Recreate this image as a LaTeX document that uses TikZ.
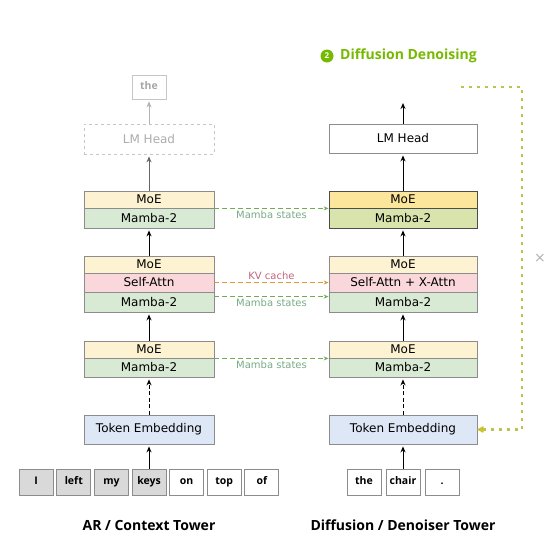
\documentclass[tikz,border=0pt]{standalone}
\usepackage{fontspec}
\setmainfont{DejaVu Sans}
\newfontfamily\headfont{Open Sans}
\usetikzlibrary{positioning}
\usetikzlibrary{calc}
\usetikzlibrary{arrows.meta}
\definecolor{moefill}{RGB}{253,243,210}
\definecolor{mambafill}{RGB}{217,234,212}
\definecolor{attnfill}{RGB}{249,215,218}
\definecolor{embfill}{RGB}{222,231,246}
\definecolor{moehot}{RGB}{252,230,155}
\definecolor{mambahot}{RGB}{216,228,172}
\definecolor{tokgray}{RGB}{217,217,217}
\definecolor{boxline}{RGB}{140,140,140}
\definecolor{nvgreen}{RGB}{118,185,0}
\definecolor{stategreen}{RGB}{112,172,82}
\definecolor{statetext}{RGB}{120,170,135}
\definecolor{kvorange}{RGB}{226,150,60}
\definecolor{kvtext}{RGB}{190,100,130}
\definecolor{loopgreen}{RGB}{186,196,78}
\definecolor{loophead}{RGB}{205,195,45}
\tikzset{
	layer/.style={draw=boxline,line width=0.8pt,inner sep=0pt,font=\fontsize{12}{14}\selectfont},
	token/.style={draw=boxline,line width=0.8pt,inner sep=0pt,minimum width=34pt,minimum height=26pt,text height=8pt,text depth=2.5pt,font=\headfont\bfseries\fontsize{10.5}{12}\selectfont},
	towername/.style={font=\headfont\bfseries\fontsize{14}{16}\selectfont},
	uparrow/.style={-{Stealth[length=6pt,width=5pt]},line width=1pt,shorten >=2pt},
	statearrow/.style={-{Stealth[length=5pt,width=4pt]},line width=1.5pt,dash pattern=on 5pt off 3pt},
	statelabel/.style={font=\fontsize{10}{12}\selectfont,inner sep=2pt},
}

\begin{document}
\begin{tikzpicture}[x=1pt,y=-1pt]
	\useasboundingbox (0,0) rectangle (548,552);

	% AR tower blocks.....................
	\node [layer,fill=moefill,minimum width=130pt,minimum height=17pt] (lmoeA) at (149,349.5) {MoE};
	\node [layer,fill=mambafill,minimum width=130pt,minimum height=19pt] (lmambaA) at (149,367.5) {Mamba-2};
	\node [layer,fill=moefill,minimum width=130pt,minimum height=17pt] (lmoeB) at (149,264.5) {MoE};
	\node [layer,fill=attnfill,minimum width=130pt,minimum height=19pt] (lattnB) at (149,282.5) {Self-Attn};
	\node [layer,fill=mambafill,minimum width=130pt,minimum height=20pt] (lmambaB) at (149,302) {Mamba-2};
	\node [layer,fill=moefill,minimum width=130pt,minimum height=17pt] (lmoeC) at (149,199.5) {MoE};
	\node [layer,fill=mambafill,minimum width=130pt,minimum height=20pt] (lmambaC) at (149,218) {Mamba-2};
	\node [layer,fill=embfill,minimum width=130pt,minimum height=29pt] (lemb) at (149,429.5) {Token Embedding};
	\node [layer,draw=gray!45,dashed,text=gray!65,minimum width=130pt,minimum height=30pt] (lhead) at (149,139) {LM Head};
	\node [token,draw=gray!45,text=gray!70,minimum height=24pt] (lout) at (149,87) {the};

	% Denoiser tower blocks...................
	\node [layer,fill=moefill,minimum width=148pt,minimum height=17pt] (rmoeA) at (403,349.5) {MoE};
	\node [layer,fill=mambafill,minimum width=148pt,minimum height=19pt] (rmambaA) at (403,367.5) {Mamba-2};
	\node [layer,fill=moefill,minimum width=148pt,minimum height=17pt] (rmoeB) at (403,264.5) {MoE};
	\node [layer,fill=attnfill,minimum width=148pt,minimum height=19pt] (rattnB) at (403,282.5) {Self-Attn + X-Attn};
	\node [layer,fill=mambafill,minimum width=148pt,minimum height=20pt] (rmambaB) at (403,302) {Mamba-2};
	\node [layer,draw=gray!60!black,fill=moehot,minimum width=148pt,minimum height=17pt] (rmoeC) at (403,199.5) {MoE};
	\node [layer,draw=gray!60!black,fill=mambahot,minimum width=148pt,minimum height=20pt] (rmambaC) at (403,218) {Mamba-2};
	\node [layer,fill=embfill,minimum width=148pt,minimum height=29pt] (remb) at (403,429.5) {Token Embedding};
	\node [layer,fill=white,minimum width=148pt,minimum height=29pt] (rhead) at (403,138.5) {LM Head};
	\coordinate (rout) at (403,101);

	% input tokens..............................
	\foreach \word [count=\i] in {I,left,my,keys} {
		\node [token,fill=tokgray] (ltok\i) at ({149+(\i-4)*37.6},482) {\word};
	}
	\foreach \word [count=\i from 5] in {on,top,of} {
		\node [token,fill=white] (ltok\i) at ({149+(\i-4)*37.6},482) {\word};
	}
	\foreach \word [count=\i] in {the,chair,.} {
		\node [token,fill=white] (rtok\i) at ({403+(\i-2)*39},482) {\word};
	}

	% vertical flow.............................
	\draw [uparrow] (ltok4.north) -- (lemb.south);
	\draw [uparrow,dash pattern=on 4pt off 2.5pt] (lemb.north) -- (lmambaA.south);
	\draw [uparrow] (lmoeA.north) -- (lmambaB.south);
	\draw [uparrow] (lmoeB.north) -- (lmambaC.south);
	\draw [uparrow,draw=gray!80!black] (lmoeC.north) -- (lhead.south);
	\draw [uparrow,draw=gray!60] (lhead.north) -- (lout.south);
	\draw [uparrow] (rtok2.north) -- (remb.south);
	\draw [uparrow,dash pattern=on 4pt off 2.5pt] (remb.north) -- (rmambaA.south);
	\draw [uparrow] (rmoeA.north) -- (rmambaB.south);
	\draw [uparrow] (rmoeB.north) -- (rmambaC.south);
	\draw [uparrow] (rmoeC.north) -- (rhead.south);
	\draw [uparrow] (rhead.north) -- (rout);

	% states passed across.......................
	\draw [statearrow,draw=stategreen] (lmoeC.south east) -- (rmoeC.south west)
		node [midway,below,statelabel,text=statetext] {Mamba states};
	\draw [statearrow,draw=kvorange] (lattnB.east) -- (rattnB.west)
		node [midway,above,statelabel,text=kvtext] {KV cache};
	\draw [statearrow,draw=stategreen] ([yshift=-5pt]lmambaB.north east) -- ([yshift=-5pt]rmambaB.north west)
		node [midway,below,statelabel,text=statetext] {Mamba states};
	\draw [statearrow,draw=stategreen] (lmoeA.south east) -- (rmoeA.south west)
		node [midway,below,statelabel,text=statetext] {Mamba states};

	% denoising loop............................
	\coordinate (loopstart) at (461,87);
	\coordinate (loopcorner) at (522,87);
	\draw [loopgreen,line width=2.6pt,dash pattern=on 2.6pt off 5.4pt,-{Latex[length=8pt,width=8pt,round,color=loophead]}]
		(loopstart) -- (loopcorner) -- (loopcorner |- remb.east) -- (remb.east);
	\node [text=gray!60,font=\fontsize{14}{14}\selectfont] (xmark) at (540,258) {×};

	% labels..............................
	\node [circle,fill=nvgreen,text=white,inner sep=0pt,minimum size=13pt,font=\headfont\bfseries\fontsize{8}{9}\selectfont] (stepnum) at (327,56) {2};
	\node [right=3pt of stepnum,towername,text=nvgreen] (steptitle) {Diffusion Denoising};
	\node [towername] (lname) at (149,525) {AR / Context Tower};
	\node [towername] (rname) at (403,525) {Diffusion / Denoiser Tower};
\end{tikzpicture}
\end{document}
